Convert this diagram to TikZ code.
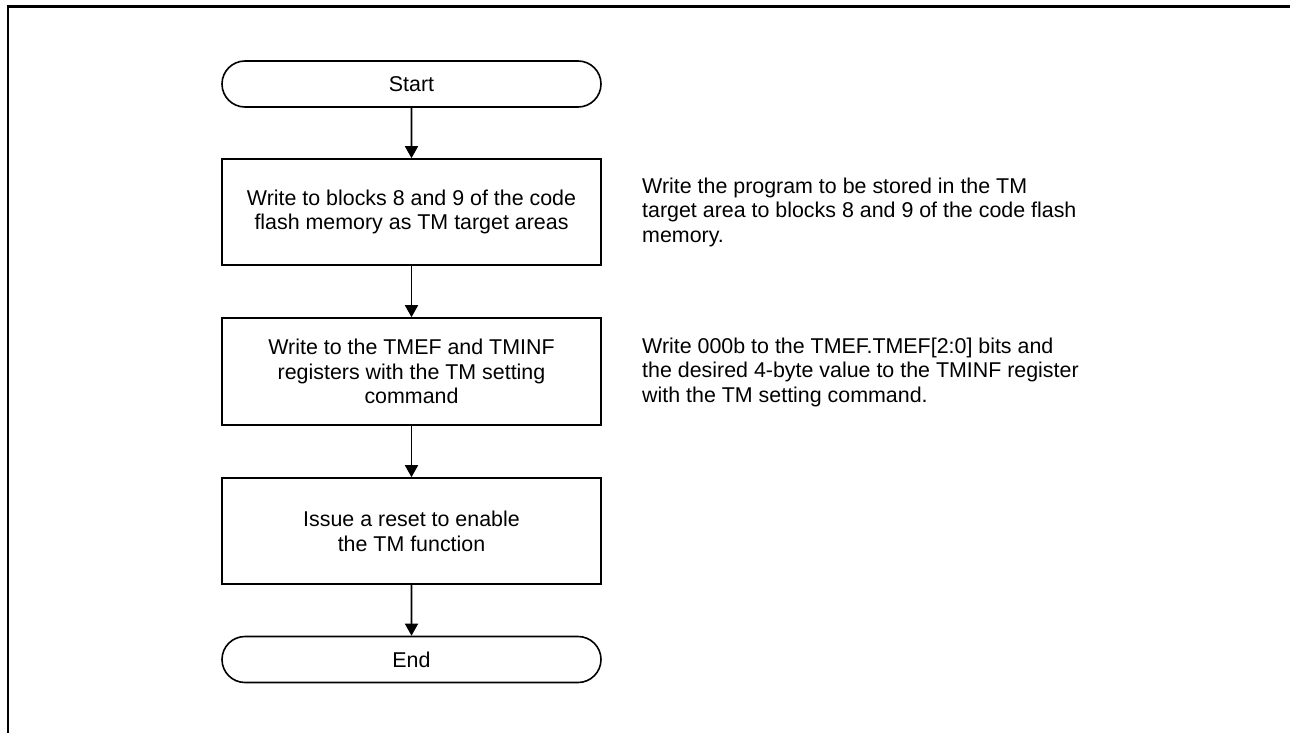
\documentclass[tikz,border=0pt]{standalone}
\usepackage{fontspec}
\setmainfont{Liberation Sans}
\usetikzlibrary{arrows.meta,shapes.misc}
\begin{document}
\begin{tikzpicture}[x=1pt,y=-1pt,
  every node/.style={font=\fontsize{21.4}{24.7}\selectfont},
  term/.style={draw,line width=1.6pt,rounded rectangle,minimum width=379pt,minimum height=46pt,inner sep=0pt},
  procbox/.style={draw,line width=1.6pt,rectangle,minimum width=379pt,minimum height=106pt,inner sep=0pt,align=center},
  note/.style={anchor=north west,inner sep=0pt,align=left},
  flow/.style={line width=1.6pt,-{Triangle[length=12pt,width=13pt]}}]
\useasboundingbox (0,0) rectangle (1290,733);
\draw[line width=2.7pt,line join=miter] (8,733) -- (8,6.3) -- (1290,6.3);
\node[term] (start) at (411.5,84) {Start};
\node[procbox] (b1) at (411.5,212) {Write to blocks 8 and 9 of the code\\flash memory as TM target areas};
\node[procbox,minimum height=107pt] (b2) at (411.5,371.5) {Write to the TMEF and TMINF\\registers with the TM setting\\command};
\node[procbox] (b3) at (411.5,531) {Issue a reset to enable\\the TM function};
\node[term] (end) at (411.5,659.5) {End};
\node[note] (n1) at (642,177.4) {Write the program to be stored in the TM\\target area to blocks 8 and 9 of the code flash\\memory.};
\node[note] (n2) at (642,337.4) {Write 000b to the TMEF.TMEF[2:0] bits and\\the desired 4-byte value to the TMINF register\\with the TM setting command.};
\draw[flow] (start) -- (b1);
\draw[flow] (b1) -- (b2);
\draw[flow] (b2) -- (b3);
\draw[flow] (b3) -- (end);
\end{tikzpicture}
\end{document}
